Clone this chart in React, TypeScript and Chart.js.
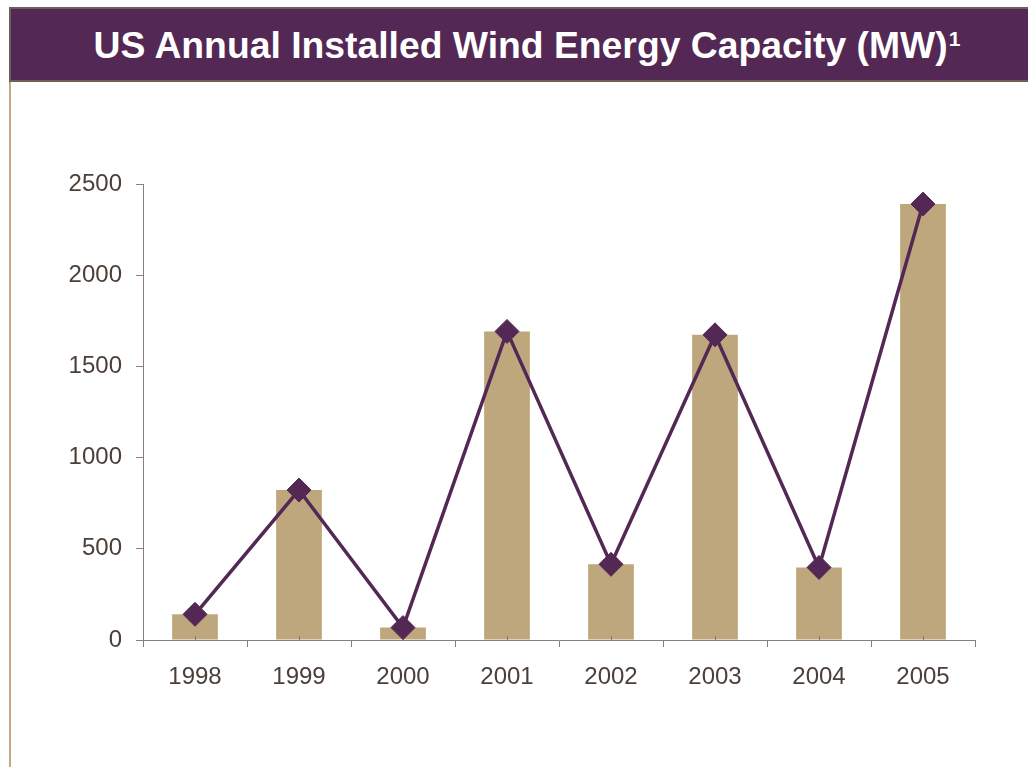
import React, { useEffect, useRef } from "react";
import { Chart, registerables } from "chart.js";

Chart.register(...registerables);

// Annual installed wind capacity, megawatts
const years = ["1998", "1999", "2000", "2001", "2002", "2003", "2004", "2005"];
const capacityMW = [141, 822, 68, 1692, 415, 1673, 398, 2390];
const yTicks = [0, 500, 1000, 1500, 2000, 2500];

const PURPLE = "#532854";
const TAN = "#bea77c";
const AXIS = "#8b7e78";
const LABEL = "#4b3f38";
const FONT = "'Liberation Sans', Arial, sans-serif";

// short upward ticks at each category centre, drawn over the bars but under the line
const centreTicks = {
  id: "centreTicks",
  afterDatasetDraw(chart: any, args: any) {
    if (args.index !== 0) return;
    const x = chart.scales.x;
    const bottom = chart.chartArea.bottom;
    const ctx = chart.ctx;
    ctx.save();
    ctx.strokeStyle = "#8a7a66";
    ctx.lineWidth = 1;
    for (let i = 0; i < years.length; i++) {
      const px = Math.round(x.getPixelForValue(i)) + 0.5;
      ctx.beginPath();
      ctx.moveTo(px, bottom);
      ctx.lineTo(px, bottom - 4);
      ctx.stroke();
    }
    ctx.restore();
  },
};

export default function App() {
  const ref = useRef<HTMLCanvasElement>(null);

  useEffect(() => {
    document.body.style.margin = "0";
    const chart = new Chart(ref.current!, {
      type: "bar",
      data: {
        labels: years,
        datasets: [
          {
            type: "bar",
            data: capacityMW,
            backgroundColor: TAN,
            barPercentage: 0.44,
            categoryPercentage: 1,
            order: 1,
          },
          {
            type: "line",
            data: capacityMW,
            borderColor: PURPLE,
            borderWidth: 3.5,
            pointStyle: "rectRot",
            pointRadius: 12,
            pointBackgroundColor: PURPLE,
            pointBorderColor: PURPLE,
            pointBorderWidth: 1,
            tension: 0,
            order: 0,
          },
        ],
      },
      options: {
        responsive: false,
        animation: false,
        layout: { padding: { top: 84, right: 53, left: 0, bottom: 0 } },
        plugins: { legend: { display: false }, tooltip: { enabled: false } },
        scales: {
          x: {
            offset: true,
            grid: {
              offset: true,
              drawOnChartArea: false,
              tickLength: 7,
              color: AXIS,
              lineWidth: 1,
            },
            border: { color: AXIS, width: 1 },
            ticks: {
              color: LABEL,
              padding: 16,
              font: { family: FONT, size: 24 },
            },
            afterFit(scale: any) {
              scale.height = 60;
            },
          },
          y: {
            min: 0,
            max: 2500,
            afterBuildTicks(scale: any) {
              scale.ticks = yTicks.map((v) => ({ value: v }));
            },
            grid: {
              drawOnChartArea: false,
              tickLength: 7,
              color: AXIS,
              lineWidth: 1,
            },
            border: { color: AXIS, width: 1 },
            ticks: {
              color: LABEL,
              padding: 14,
              font: { family: FONT, size: 24 },
              callback: (v: any) => String(v),
            },
            afterFit(scale: any) {
              scale.width = 143;
            },
          },
        },
      },
      plugins: [centreTicks],
    });
    return () => chart.destroy();
  }, []);

  return (
    <div
      style={{
        position: "absolute",
        left: 0,
        top: 0,
        width: 1028,
        height: 767,
        overflow: "hidden",
        background: "#ffffff",
      }}
    >
      <div
        style={{
          position: "absolute",
          left: 9,
          top: 7,
          width: 1030,
          height: 71,
          background: PURPLE,
          border: "2px solid #6d6055",
          display: "flex",
          alignItems: "center",
          justifyContent: "center",
          color: "#ffffff",
          fontFamily: FONT,
          fontWeight: "bold",
          fontSize: 37.3,
          whiteSpace: "nowrap",
          paddingRight: 2,
          boxSizing: "content-box",
        }}
      >
        <span style={{ position: "relative", left: 1, top: 1 }}>
          US Annual Installed Wind Energy Capacity (MW)
          <span
            style={{
              fontSize: 21,
              position: "relative",
              top: -12,
              marginLeft: 1,
            }}
          >
            1
          </span>
        </span>
      </div>
      <div
        style={{
          position: "absolute",
          left: 9,
          top: 82,
          width: 2,
          height: 700,
          background: "#c4aa80",
        }}
      />
      <canvas
        ref={ref}
        width={1028}
        height={600}
        style={{ position: "absolute", left: 0, top: 100, width: 1028, height: 600 }}
      />
    </div>
  );
}
